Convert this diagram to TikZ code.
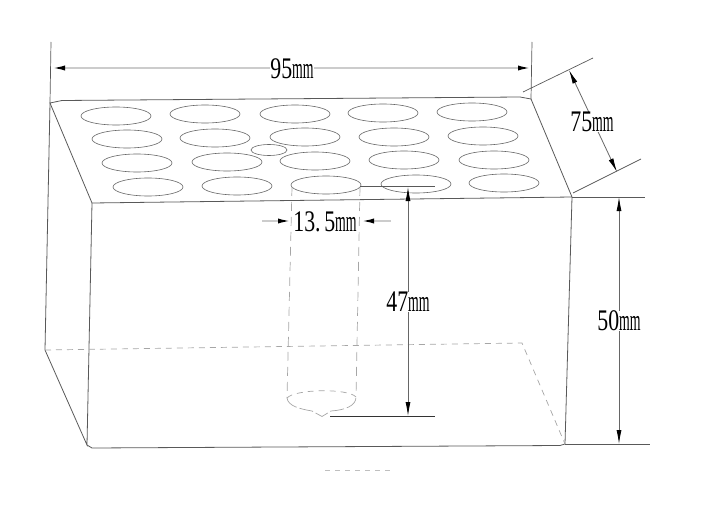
\documentclass[tikz,border=0pt]{standalone}
\usepackage{fontspec}
\usepackage{graphicx}
\setmainfont{Liberation Serif}
\usetikzlibrary{arrows.meta,shapes.geometric}
\newcommand{\mmunit}{\scalebox{0.6}[1.3]{mm}}
\newcommand{\dimtext}[1]{\scalebox{0.95}[1.3]{#1}}

\begin{document}
\begin{tikzpicture}[x=1pt,y=-1pt,
	hole/.style={ellipse,draw=black!60,line width=.6pt,minimum width=70pt,minimum height=18pt,inner sep=0pt},
	edge/.style={draw=black!65,line width=.8pt},
	hidden/.style={draw=black!35,line width=.7pt,dash pattern=on 6pt off 5pt},
	ext/.style={draw=black!65,line width=.7pt},
	dim/.style={draw=black!60,line width=.8pt,{Latex[length=14pt,width=5pt,black]}-{Latex[length=14pt,width=5pt,black]}},
	dimlabel/.style={font=\fontsize{23}{23}\selectfont,fill=white,inner sep=0pt,text=black}]
	\useasboundingbox (0,0) rectangle (704,508);
	% corners of the block
	\coordinate (backleft) at (50,103);
	\coordinate (backright) at (531,99);
	\coordinate (frontleft) at (92,203);
	\coordinate (frontright) at (572,197);
	\coordinate (lowleft) at (45,350);
	\coordinate (lowright) at (522,343);
	\coordinate (baseleft) at (87,445);
	\coordinate (baseright) at (565,444);
	% block
	\draw[edge] (backleft) -- (62,100.5) -- (520,97) -- (backright) -- (frontright) -- (frontleft) -- cycle;
	\draw[edge] (backleft) -- (lowleft) -- (baseleft) -- (frontleft);
	\draw[edge] (baseleft) -- (92,448) -- (560,445.5) -- (baseright) -- (frontright);
	\draw[hidden] (lowleft) -- (lowright) -- (baseright);
	% holes
	\node[hole] (h11) at (116,116) {};
	\node[hole] (h12) at (205,114) {};
	\node[hole] (h13) at (295,114) {};
	\node[hole] (h14) at (383,113) {};
	\node[hole] (h15) at (472,112) {};
	\node[hole] (h21) at (127,139) {};
	\node[hole] (h22) at (215,138) {};
	\node[hole] (h23) at (305,137) {};
	\node[hole] (h24) at (394,137) {};
	\node[hole] (h25) at (483,136) {};
	\node[hole] (h31) at (137,163) {};
	\node[hole] (h32) at (227,162) {};
	\node[hole] (h33) at (315,161) {};
	\node[hole] (h34) at (404,160) {};
	\node[hole] (h35) at (494,160) {};
	\node[hole] (h41) at (148,187) {};
	\node[hole] (h42) at (237,186) {};
	\node[hole] (h43) at (326,185) {};
	\node[hole] (h44) at (416,184) {};
	\node[hole] (h45) at (504,183) {};
	\node[hole,minimum width=36pt,minimum height=11pt] (small) at (269,150) {};
	% well
	\coordinate (welltopleft) at (292,187);
	\coordinate (welltopright) at (360,187);
	\coordinate (wellleft) at (287,398);
	\coordinate (wellright) at (356,397);
	\coordinate (welltip) at (322,416.5);
	\draw[hidden,dash pattern=on 9pt off 6pt] (welltopleft) -- (wellleft);
	\draw[hidden,dash pattern=on 9pt off 6pt] (welltopright) -- (wellright);
	\draw[hidden] (wellleft) .. controls (295,389) and (348,388) .. (wellright);
	\draw[hidden,dash pattern=on 14pt off 3pt] (wellleft) .. controls (288,406) and (300,409) .. (312,411) -- (welltip) -- (331,411) .. controls (345,410) and (356,406) .. (wellright);
	% dimension 95
	\coordinate (e95a) at (51,42);
	\coordinate (e95b) at (532,42);
	\coordinate (d95a) at (51,68);
	\coordinate (d95b) at (532,68);
	\draw[ext] (e95a) -- (backleft);
	\draw[ext] (e95b) -- (backright);
	\draw[dim,draw=black!20,line width=2pt] (d95a) -- (d95b);
	\node[dimlabel] (l95) at (292,69) {\dimtext{95}\mmunit};
	% dimension 75
	\coordinate (e75a) at (523,92);
	\coordinate (e75b) at (593,58);
	\coordinate (e75c) at (573,193);
	\coordinate (e75d) at (641,159);
	\coordinate (d75a) at (569,70);
	\coordinate (d75b) at (617,172);
	\draw[ext] (e75a) -- (e75b);
	\draw[ext] (e75c) -- (e75d);
	\draw[dim] (d75a) -- (d75b);
	\node[dimlabel] (l75) at (592,122) {\dimtext{75}\mmunit};
	% dimension 50
	\coordinate (e50a) at (645,197);
	\coordinate (e50b) at (650,444);
	\coordinate (d50a) at (619,197);
	\coordinate (d50b) at (619,444);
	\draw[ext] (frontright) -- (e50a);
	\draw[ext] (baseright) -- (e50b);
	\draw[dim] (d50a) -- (d50b);
	\node[dimlabel] (l50) at (619,321) {\dimtext{50}\mmunit};
	% dimension 47
	\coordinate (e47a) at (360,186);
	\coordinate (e47b) at (435,186);
	\coordinate (e47c) at (330,416);
	\coordinate (e47d) at (435,416);
	\coordinate (d47a) at (408,187);
	\coordinate (d47b) at (408,416);
	\draw[ext] (e47a) -- (e47b);
	\draw[ext,draw=black!80] (e47c) -- (e47d);
	\draw[dim] (d47a) -- (d47b);
	\node[dimlabel] (l47) at (408,302) {\dimtext{47}\mmunit};
	% dimension 13.5
	\coordinate (d135a) at (262,221);
	\coordinate (d135b) at (292,221);
	\coordinate (d135c) at (391,221);
	\coordinate (d135d) at (360,221);
	\draw[draw=black!20,line width=2pt,-{Latex[length=14pt,width=5pt,black]}] (d135a) -- (d135b);
	\draw[draw=black!20,line width=2pt,-{Latex[length=14pt,width=5pt,black]}] (d135c) -- (d135d);
	\node[dimlabel] (l135) at (325,222) {\dimtext{13.\,5}\mmunit};
	% cut-off text at the bottom
	\coordinate (cuta) at (325,470);
	\coordinate (cutb) at (390,470);
	\draw[draw=black!25,line width=.8pt,dash pattern=on 5pt off 5pt] (cuta) -- (cutb);
\end{tikzpicture}
\end{document}
